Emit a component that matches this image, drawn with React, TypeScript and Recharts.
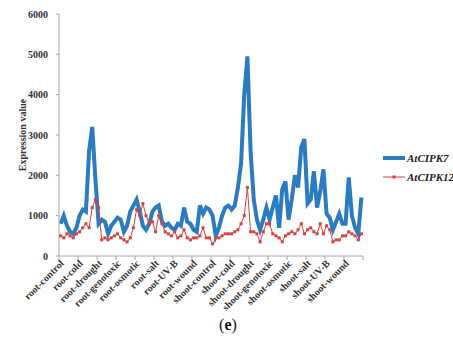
import React from "react";
import { LineChart, Line, XAxis, YAxis } from "recharts";

const CATEGORIES = [
  "root-control", "root-cold", "root-drought", "root-genotoxic",
  "root-osmotic", "root-salt", "root-UV-B", "root-wound",
  "shoot-control", "shoot-cold", "shoot-drought", "shoot-genotoxic",
  "shoot-osmotic", "shoot-salt", "shoot-UV-B", "shoot-wound",
];

const PER_CAT = 6;

// AtCIPK7, six samples per condition
const CIPK7 = [
  800, 1000, 750, 600, 550, 700,
  1000, 1150, 1100, 2600, 3200, 1900,
  800, 900, 850, 550, 750, 850,
  950, 900, 600, 750, 1100, 1250,
  1400, 1100, 750, 650, 800, 1100,
  1200, 1250, 850, 750, 800, 700,
  650, 800, 750, 1200, 850, 800,
  650, 600, 1250, 1050, 1200, 1150,
  1000, 500, 700, 1000, 1200, 1250,
  1150, 1250, 1700, 2300, 4000, 4950,
  2600, 1400, 900, 650, 900, 1200,
  900, 1200, 1500, 700, 1650, 1850,
  900, 1400, 2000, 1700, 2700, 2900,
  1300, 1400, 2100, 1200, 1600, 2150,
  1050, 950, 650, 850, 1050, 800,
  800, 1950, 1000, 700, 550, 1450,
];

// AtCIPK12
const CIPK12 = [
  500, 450, 550, 500, 450, 550,
  600, 700, 800, 700, 1200, 1400,
  1200, 400, 450, 400, 450, 500,
  550, 450, 400, 350, 450, 700,
  1150, 1000, 1300, 1000, 800, 850,
  600, 1000, 800, 600, 550, 500,
  600, 450, 500, 650, 450, 400,
  450, 450, 500, 700, 450, 450,
  300, 450, 450, 500, 550, 550,
  550, 600, 650, 800, 1000, 1700,
  600, 600, 550, 350, 600, 800,
  800, 550, 500, 450, 350, 500,
  550, 600, 550, 650, 800, 550,
  650, 700, 600, 550, 800, 550,
  750, 650, 350, 400, 400, 500,
  500, 600, 550, 500, 400, 550,
];

const Y_TICKS = [0, 1000, 2000, 3000, 4000, 5000, 6000];

const BLUE = "#2a7bbf";
const RED = "#d9413f";
const AXIS = "#a6a6a6";
const FONT = "'Liberation Serif', 'Times New Roman', serif";

const data = CIPK7.map((v, i) => ({ x: i + 0.5, cipk7: v, cipk12: CIPK12[i] }));
const total = CIPK7.length;

// boundaries get a tick mark, centers get the category label
const xTicks: number[] = [];
for (let i = 0; i <= total; i += PER_CAT / 2) xTicks.push(i);

const CatTick = ({ x, y, payload }: any) => {
  const v = payload.value;
  if (v % PER_CAT === 0) {
    return <line x1={x} x2={x} y1={y} y2={y + 4} stroke={AXIS} />;
  }
  const label = CATEGORIES[(v - PER_CAT / 2) / PER_CAT];
  const tx = x - 4;
  const ty = y + 8;
  return (
    <text
      x={tx}
      y={ty}
      transform={`rotate(-45 ${tx} ${ty})`}
      textAnchor="end"
      fontSize={10}
      fontWeight="bold"
      fontFamily={FONT}
      fill="#333"
    >
      {label}
    </text>
  );
};

const YLabel = ({ viewBox }: any) => {
  const x = viewBox.x + 13;
  const y = viewBox.y + viewBox.height / 2;
  return (
    <text
      x={x}
      y={y}
      transform={`rotate(-90 ${x} ${y})`}
      textAnchor="middle"
      dominantBaseline="central"
      fontSize={10}
      fontWeight="bold"
      fontFamily={FONT}
      fill="#333"
    >
      Expression value
    </text>
  );
};

const SquareDot = ({ cx, cy }: any) => (
  <rect x={cx - 1.5} y={cy - 1.5} width={3} height={3} fill={RED} />
);

export default function App() {
  return (
    <div style={{ position: "absolute", left: 0, top: 0, width: 453, height: 354, background: "#fff" }}>
      <LineChart
        width={453}
        height={354}
        data={data}
        margin={{ top: 14, right: 90, left: 9, bottom: 0 }}
      >
        <XAxis
          dataKey="x"
          type="number"
          domain={[0, total]}
          ticks={xTicks}
          interval={0}
          tick={<CatTick />}
          tickLine={false}
          tickSize={0}
          tickMargin={0}
          height={98}
          stroke={AXIS}
        />
        <YAxis
          domain={[0, 6000]}
          ticks={Y_TICKS}
          width={50}
          stroke={AXIS}
          tickSize={3}
          tickMargin={8}
          tick={{ fontSize: 10, fontWeight: "bold", fontFamily: FONT, fill: "#333" }}
          label={<YLabel />}
        />
        <Line
          dataKey="cipk7"
          stroke={BLUE}
          strokeWidth={4}
          dot={false}
          isAnimationActive={false}
        />
        <Line
          dataKey="cipk12"
          stroke={RED}
          strokeWidth={1}
          dot={<SquareDot />}
          isAnimationActive={false}
        />
      </LineChart>

      {/* legend */}
      <div style={{ position: "absolute", left: 383, top: 151, fontFamily: FONT, fontSize: 11, fontWeight: "bold", fontStyle: "italic", color: "#222" }}>
        <div style={{ display: "flex", alignItems: "center", height: 14 }}>
          <svg width={22} height={8}>
            <line x1={0} x2={22} y1={4} y2={4} stroke={BLUE} strokeWidth={4} />
          </svg>
          <span style={{ marginLeft: 2 }}>AtCIPK7</span>
        </div>
        <div style={{ display: "flex", alignItems: "center", height: 14, marginTop: 5 }}>
          <svg width={22} height={8}>
            <line x1={0} x2={22} y1={4} y2={4} stroke={RED} strokeWidth={1} />
            <rect x={9.5} y={2.5} width={3} height={3} fill={RED} />
          </svg>
          <span style={{ marginLeft: 2 }}>AtCIPK12</span>
        </div>
      </div>

      {/* panel caption */}
      <div style={{ position: "absolute", left: 0, width: 456, top: 316, textAlign: "center", fontFamily: FONT, fontSize: 16, color: "#111" }}>
        (<b>e</b>)
      </div>
    </div>
  );
}
